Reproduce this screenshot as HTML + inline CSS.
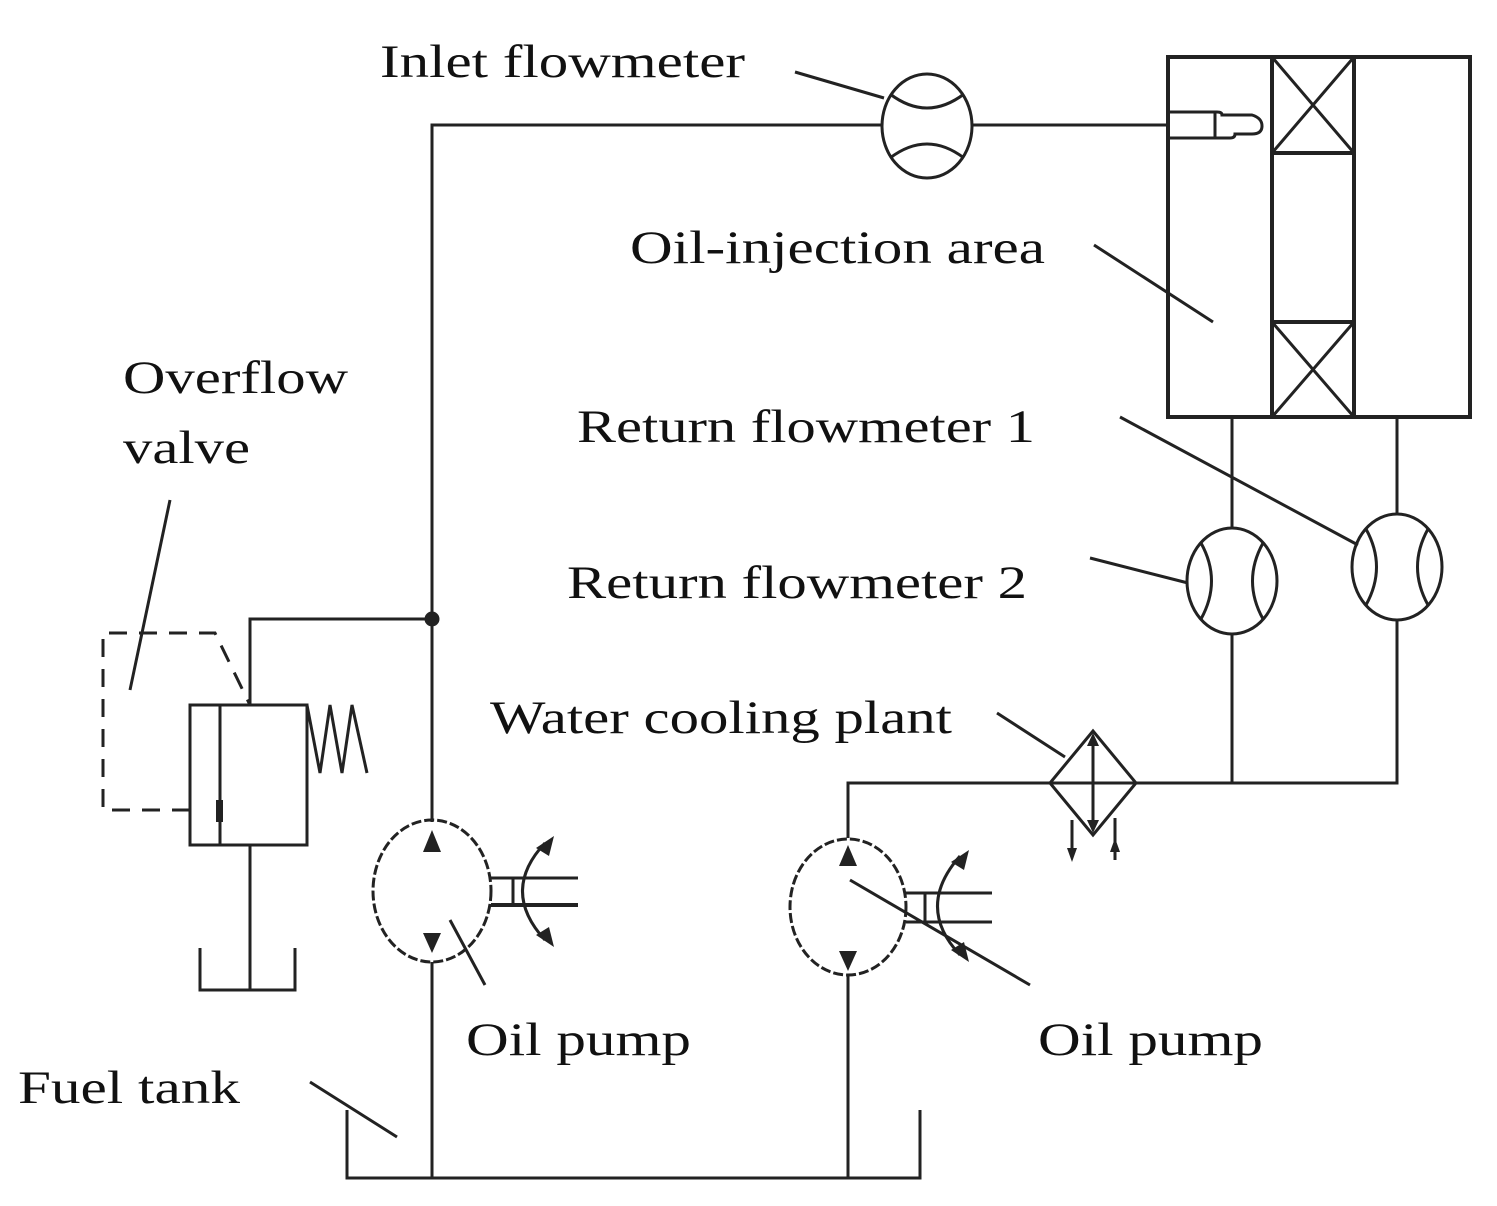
<!DOCTYPE html>
<html><head><style>body{margin:0;background:#fff}svg{display:block}text{font-family:"Liberation Serif",serif;font-size:47px;fill:#111}</style></head>
<body>
<svg width="1497" height="1206" viewBox="0 0 1497 1206" xmlns="http://www.w3.org/2000/svg">
<g stroke="#222" stroke-width="3" fill="none">
<path d="M432 822 V125 H882 M972 125 H1168"/>
<path d="M432 619 H250 V705"/>
<circle cx="432" cy="619" r="6" fill="#222"/>
<ellipse cx="927" cy="126" rx="45" ry="52"/>
<path d="M890 94 Q927 122 964 94 M890 158 Q927 130 964 158"/>
<rect x="1168" y="57" width="302" height="360" stroke-width="4"/>
<path d="M1272 57 V417 M1354 57 V417 M1272 153 H1354 M1272 322 H1354" stroke-width="4"/>
<path d="M1272 57 L1354 153 M1354 57 L1272 153 M1272 322 L1354 417 M1354 322 L1272 417"/>
<path d="M1168 112 H1217 Q1222 112 1222 115 H1252 Q1262 118 1262 126 Q1262 134 1252 134 H1235 Q1235 138 1230 138 H1168 M1215 112 V138"/>
<path d="M1232 417 V528 M1232 634 V783 M1397 417 V515 M1397 620 V783 H848 V838"/>
<ellipse cx="1232" cy="581" rx="45" ry="53"/>
<path d="M1201 543 Q1222 581 1201 619 M1263 543 Q1242 581 1263 619"/>
<ellipse cx="1397" cy="567" rx="45" ry="53"/>
<path d="M1366 529 Q1387 567 1366 605 M1428 529 Q1407 567 1428 605"/>
<path d="M1093 731 L1136 783 L1093 835 L1050 783 Z" fill="#fff"/>
<path d="M1050 783 H1136 M1093 738 V830"/>
<path d="M1072 820 V858 M1115 818 V860"/>
<rect x="190" y="705" width="117" height="140"/>
<path d="M220 705 V845"/>
<rect x="216" y="800" width="7" height="22" fill="#222" stroke="none"/>
<path d="M307 705 L320 773 L330 705 L342 773 L352 705 L367 773"/>
<path d="M250 845 V990 M200 948 V990 H295 V948"/>
<path d="M190 810 H103 V633 H215 L250 705" stroke-dasharray="18 12"/>
<ellipse cx="432" cy="891" rx="59" ry="71" stroke-dasharray="10 3"/>
<path d="M432 962 V1178"/>
<path d="M491 878 H578 M513 878 V905" />
<path d="M491 905 H578" stroke-width="4"/>
<path d="M545 843 Q500 891 545 940"/>
<ellipse cx="848" cy="907" rx="58" ry="68" stroke-dasharray="10 3"/>
<path d="M848 975 V1178"/>
<path d="M906 893 H992 M906 922 H992 M925 893 V922"/>
<path d="M960 856 Q915 907 960 955"/>
<path d="M347 1110 V1178 H920 V1110"/>
<path d="M795 72 L884 98 M1094 245 L1213 322 M1120 417 L1358 545 M1090 558 L1188 583 M997 713 L1065 757 M170 500 L130 690 M450 920 L485 985 M850 880 L1030 985 M310 1082 L397 1137"/>
</g>
<g fill="#222">
<path d="M423 852 L441 852 L432 830 Z"/>
<path d="M423 933 L441 933 L432 953 Z"/>
<path d="M839 866 L857 866 L848 845 Z"/>
<path d="M839 951 L857 951 L848 971 Z"/>
<path d="M1087 746 L1099 746 L1093 733 Z"/>
<path d="M1087 820 L1099 820 L1093 833 Z"/>
<path d="M1067 848 L1077 848 L1072 862 Z"/>
<path d="M1110 852 L1120 852 L1115 838 Z"/>
<path d="M536 848 L554 836 L549 856 Z"/>
<path d="M536 935 L554 947 L549 927 Z"/>
<path d="M951 862 L969 850 L964 870 Z"/>
<path d="M951 950 L969 962 L964 942 Z"/>
</g>
<text x="380" y="77" textLength="365" lengthAdjust="spacingAndGlyphs">Inlet flowmeter</text>
<text x="630" y="263" textLength="415" lengthAdjust="spacingAndGlyphs">Oil-injection area</text>
<text x="123" y="393" textLength="225" lengthAdjust="spacingAndGlyphs">Overflow</text>
<text x="123" y="463" textLength="127" lengthAdjust="spacingAndGlyphs">valve</text>
<text x="577" y="442" textLength="458" lengthAdjust="spacingAndGlyphs">Return flowmeter 1</text>
<text x="567" y="598" textLength="460" lengthAdjust="spacingAndGlyphs">Return flowmeter 2</text>
<text x="490" y="733" textLength="462" lengthAdjust="spacingAndGlyphs">Water cooling plant</text>
<text x="466" y="1055" textLength="225" lengthAdjust="spacingAndGlyphs">Oil pump</text>
<text x="1038" y="1055" textLength="225" lengthAdjust="spacingAndGlyphs">Oil pump</text>
<text x="18" y="1103" textLength="222" lengthAdjust="spacingAndGlyphs">Fuel tank</text>
</svg>
</body></html>
